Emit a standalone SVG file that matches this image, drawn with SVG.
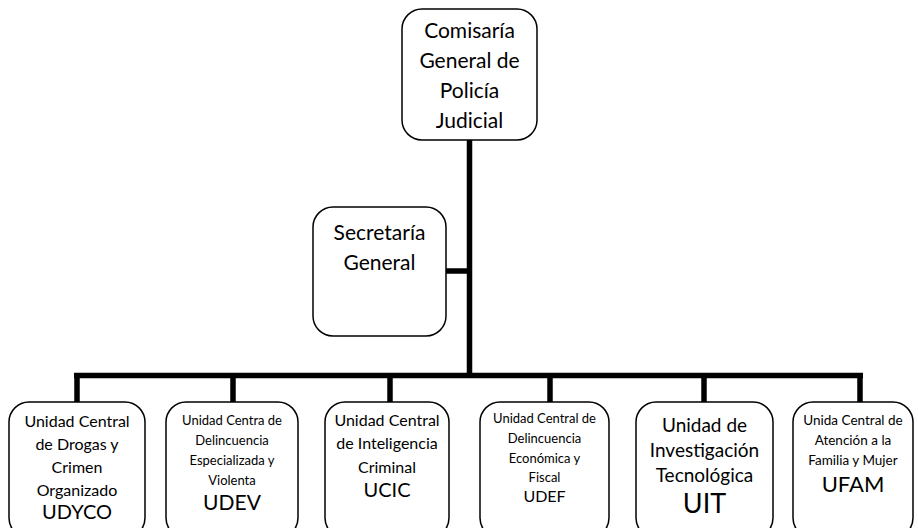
<svg xmlns="http://www.w3.org/2000/svg" width="918" height="528" viewBox="0 0 918 528">
<style>
.box{fill:#fff;stroke:#000;stroke-width:1.5}
.ln{stroke:#000;stroke-width:5.5;fill:none}
text{font-family:Lato,"Liberation Sans",sans-serif;fill:#000;text-anchor:middle}
</style>
<rect width="918" height="528" fill="#fff"/>
<g id="connectors">
<line class="ln" x1="469.5" y1="140" x2="469.5" y2="376"/>
<line class="ln" x1="446" y1="271" x2="469.5" y2="271"/>
<line class="ln" x1="74" y1="375.5" x2="863" y2="375.5"/>
<line class="ln" x1="77" y1="375" x2="77" y2="402"/>
<line class="ln" x1="233" y1="375" x2="233" y2="402"/>
<line class="ln" x1="390" y1="375" x2="390" y2="402"/>
<line class="ln" x1="550" y1="375" x2="550" y2="402"/>
<line class="ln" x1="704" y1="375" x2="704" y2="402"/>
<line class="ln" x1="860" y1="375" x2="860" y2="402"/>
</g>
<g id="comisaria">
<rect class="box" x="402" y="9" width="135" height="131" rx="20"/>
<text font-size="21"><tspan x="469.5" y="38">Comisaría</tspan><tspan x="469.5" y="68">General de</tspan><tspan x="469.5" y="98">Policía</tspan><tspan x="469.5" y="128">Judicial</tspan></text>
</g>
<g id="secretaria">
<rect class="box" x="313" y="207" width="133" height="129" rx="20"/>
<text font-size="21"><tspan x="379.5" y="240">Secretaría</tspan><tspan x="379.5" y="270">General</tspan></text>
</g>
<g id="udyco">
<rect class="box" x="9" y="402" width="136" height="136" rx="20"/>
<text font-size="16"><tspan x="77" y="427">Unidad Central</tspan><tspan x="77" y="450">de Drogas y</tspan><tspan x="77" y="473">Crimen</tspan><tspan x="77" y="496">Organizado</tspan></text>
<text font-size="20" x="77" y="519">UDYCO</text>
</g>
<g id="udev">
<rect class="box" x="166" y="402" width="132" height="136" rx="20"/>
<text font-size="13"><tspan x="232" y="425">Unidad Centra de</tspan><tspan x="232" y="445">Delincuencia</tspan><tspan x="232" y="465">Especializada y</tspan><tspan x="232" y="485">Violenta</tspan></text>
<text font-size="21" x="232" y="510">UDEV</text>
</g>
<g id="ucic">
<rect class="box" x="325" y="402" width="124" height="136" rx="20"/>
<text font-size="16"><tspan x="387" y="426">Unidad Central</tspan><tspan x="387" y="449">de Inteligencia</tspan><tspan x="387" y="473">Criminal</tspan></text>
<text font-size="20" x="387" y="497">UCIC</text>
</g>
<g id="udef">
<rect class="box" x="480" y="402" width="129" height="136" rx="20"/>
<text font-size="13"><tspan x="544.5" y="423">Unidad Central de</tspan><tspan x="544.5" y="443">Delincuencia</tspan><tspan x="544.5" y="463">Económica y</tspan><tspan x="544.5" y="482">Fiscal</tspan></text>
<text font-size="16" x="544.5" y="502">UDEF</text>
</g>
<g id="uit">
<rect class="box" x="636" y="402" width="137" height="136" rx="20"/>
<text font-size="19"><tspan x="704.5" y="432">Unidad de</tspan><tspan x="704.5" y="457">Investigación</tspan><tspan x="704.5" y="482">Tecnológica</tspan></text>
<text font-size="27" x="704.5" y="513">UIT</text>
</g>
<g id="ufam">
<rect class="box" x="793" y="402" width="120" height="136" rx="20"/>
<text font-size="13.5"><tspan x="853" y="425">Unida Central de</tspan><tspan x="853" y="445">Atención a la</tspan><tspan x="853" y="465">Familia y Mujer</tspan></text>
<text font-size="22" x="853" y="492">UFAM</text>
</g>
</svg>
